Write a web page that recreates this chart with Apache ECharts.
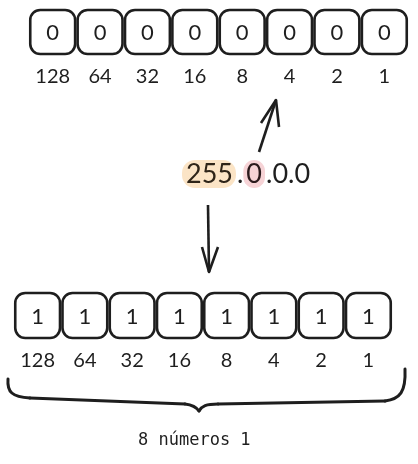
<!DOCTYPE html>
<html>
<head>
<meta charset="utf-8">
<script src="https://cdn.jsdelivr.net/npm/echarts@6/dist/echarts.min.js"></script>
<style>
html,body{margin:0;padding:0;background:#fff;}
#chart{width:418px;height:464px;}
</style>
</head>
<body>
<div id="chart"></div>
<script>
// ---- data ----
var weights = ['128', '64', '32', '16', '8', '4', '2', '1'];
var topBits = [0, 0, 0, 0, 0, 0, 0, 0];
var bottomBits = [1, 1, 1, 1, 1, 1, 1, 1];
var ipOctets = ['255', '0', '0', '0'];
var caption = '8 números 1';

var INK = '#1e1e1e';
var HAND = 'Lato, "Noto Sans", sans-serif';

var chart = echarts.init(document.getElementById('chart'), null, {renderer: 'canvas'});

function boxRenderer(params, api) {
  var i = api.value(0);
  var c = api.coord([i, 0.5]);
  var s = api.size([1, 1]);
  var w = s[0] - 2.5, h = s[1];
  return {
    type: 'group',
    children: [{
      type: 'rect',
      shape: {x: c[0] - w / 2, y: c[1] - h / 2, width: w, height: h, r: 10},
      style: {fill: '#fff', stroke: INK, lineWidth: 2.6}
    }, {
      type: 'text',
      style: {
        x: c[0], y: c[1] + 1, text: String(api.value(1)),
        fill: INK, fontSize: 22, fontFamily: HAND, align: 'center', verticalAlign: 'middle'
      }
    }]
  };
}

function catAxis(gi) {
  return {
    type: 'category', gridIndex: gi, data: weights, boundaryGap: true,
    axisLine: {show: false}, axisTick: {show: false}, splitLine: {show: false},
    axisLabel: {color: INK, fontSize: 20, fontFamily: HAND, margin: 13, interval: 0}
  };
}
function valAxis(gi) {
  return {type: 'value', gridIndex: gi, min: 0, max: 1, show: false};
}

var ipRich = '{hl|' + ipOctets[0] + '}{d|.}{pk|' + ipOctets[1] + '}{d|.' + ipOctets.slice(2).join('.') + '}';

function bez(x1, y1, c1x, c1y, c2x, c2y, x2, y2) {
  return {
    type: 'bezierCurve',
    shape: {x1: x1, y1: y1, cpx1: c1x, cpy1: c1y, cpx2: c2x, cpy2: c2y, x2: x2, y2: y2},
    style: {stroke: INK, lineWidth: 3, fill: null, lineCap: 'round'}
  };
}

chart.setOption({
  animation: false,
  backgroundColor: '#fff',
  grid: [
    {left: 29, right: 10, top: 10, height: 44},
    {left: 14, right: 26, top: 293, height: 45}
  ],
  xAxis: [catAxis(0), catAxis(1)],
  yAxis: [valAxis(0), valAxis(1)],
  series: [{
    type: 'custom', coordinateSystem: 'cartesian2d', xAxisIndex: 0, yAxisIndex: 0,
    data: topBits.map(function (b, i) { return [i, b]; }),
    renderItem: boxRenderer
  }, {
    type: 'custom', coordinateSystem: 'cartesian2d', xAxisIndex: 1, yAxisIndex: 1,
    data: bottomBits.map(function (b, i) { return [i, b]; }),
    renderItem: boxRenderer
  }],
  graphic: [
    // IP text with highlights
    {
      type: 'text', left: 182, top: 160,
      style: {
        text: ipRich, fill: INK, font: '27px ' + HAND,
        rich: {
          hl: {fontSize: 27, fontFamily: HAND, fill: '#2e2418', backgroundColor: '#fbe4c6', borderRadius: 13, padding: [1, 3, 0, 4]},
          pk: {fontSize: 27, fontFamily: HAND, fill: '#2a1a1c', backgroundColor: '#f6d3d6', borderRadius: 13, padding: [1, 3, 0, 3]},
          d: {fontSize: 27, fontFamily: HAND, fill: INK, padding: [1, 0, 0, 1]}
        }
      }
    },
    // up arrow
    {type: 'polyline', shape: {points: [[259, 152], [276, 100]]}, style: {stroke: INK, lineWidth: 2.6, fill: null}},
    {type: 'polyline', shape: {points: [[261, 123], [276, 100], [279, 127]]}, style: {stroke: INK, lineWidth: 2.6, fill: null, lineJoin: 'round'}},
    // down arrow
    {type: 'polyline', shape: {points: [[208, 205], [209, 272]]}, style: {stroke: INK, lineWidth: 2.6, fill: null}},
    {type: 'polyline', shape: {points: [[202, 247], [209, 272], [218, 247]]}, style: {stroke: INK, lineWidth: 2.6, fill: null, lineJoin: 'round'}},
    // brace
    bez(8, 379, 7, 392, 12, 397, 30, 398),
    {type: 'line', shape: {x1: 30, y1: 398, x2: 185, y2: 404}, style: {stroke: INK, lineWidth: 3, lineCap: 'round'}},
    bez(185, 404, 193, 405, 197, 408, 199, 411),
    bez(199, 411, 202, 406, 206, 404, 218, 404),
    {type: 'line', shape: {x1: 218, y1: 404, x2: 385, y2: 401}, style: {stroke: INK, lineWidth: 3, lineCap: 'round'}},
    bez(385, 401, 400, 399, 406, 392, 405, 369),
    // caption
    {
      type: 'text', left: 138, top: 432,
      style: {text: caption, fill: INK, font: '17px "DejaVu Sans Mono", "Liberation Mono", monospace'}
    }
  ]
});
</script>
</body>
</html>
